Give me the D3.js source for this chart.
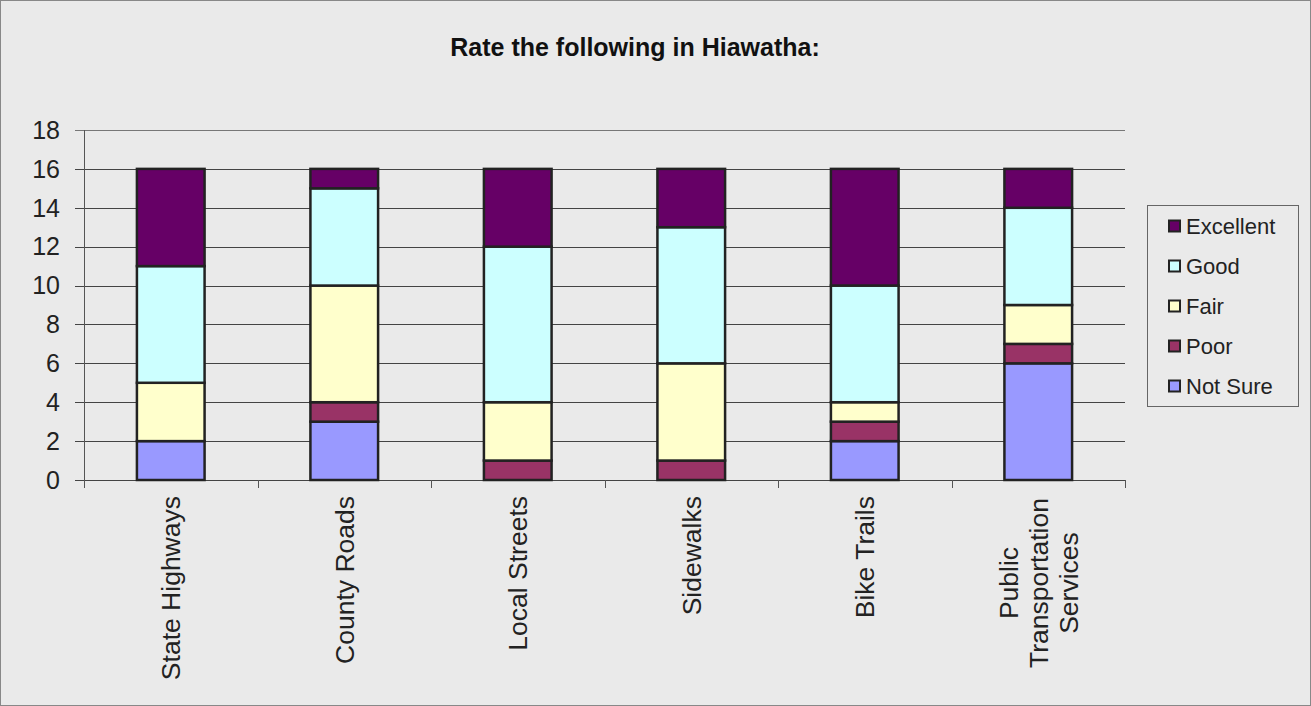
<!DOCTYPE html>
<html><head><meta charset="utf-8">
<script src="https://cdn.jsdelivr.net/npm/d3@7"></script>
<style>body{margin:0;background:#fff}svg{display:block}</style>
</head><body><svg id="c" width="1311" height="706"></svg>
<script>
const categories = ["State Highways","County Roads","Local Streets","Sidewalks","Bike Trails","Public Transportation Services"];
const categoryLines = [["State Highways"],["County Roads"],["Local Streets"],["Sidewalks"],["Bike Trails"],["Public","Transportation","Services"]];
const seriesNames = ["Not Sure","Poor","Fair","Good","Excellent"];
const notSure   = [2,3,0,0,2,6];
const poor      = [0,1,1,1,1,1];
const fair      = [3,6,3,5,1,2];
const good      = [6,5,8,7,6,5];
const excellent = [5,1,4,3,6,2];
const yTicks = [0,2,4,6,8,10,12,14,16,18];
const colors = {"Not Sure":"#9999FF","Poor":"#993366","Fair":"#FFFFCC","Good":"#CCFFFF","Excellent":"#660066"};
const seriesValues = [notSure,poor,fair,good,excellent];

const svg = d3.select("#c");
const font = "'Liberation Sans', Arial, sans-serif";
svg.append("rect").attr("x",0.5).attr("y",0.5).attr("width",1310).attr("height",705)
  .attr("fill","#EAEAEA").attr("stroke","#888").attr("stroke-width",1);

svg.append("text").attr("x",635).attr("y",56).attr("text-anchor","middle")
  .attr("font-family",font).attr("font-size",25).attr("font-weight","bold").attr("fill","#111")
  .text("Rate the following in Hiawatha:");

const L=84, R=1125, T=130, B=480;
const x = d3.scaleBand().domain(categories).range([L,R]).paddingInner(0.61).paddingOuter(0.305);
const y = d3.scaleLinear().domain([0,18]).range([B,T]);

// gridlines
svg.append("g").selectAll("line").data(yTicks).join("line")
  .attr("x1",L-9).attr("x2",R).attr("y1",d=>Math.round(y(d))+0.5).attr("y2",d=>Math.round(y(d))+0.5)
  .attr("stroke",d=>d===18?"#777":"#444").attr("stroke-width",1);
// y axis line
svg.append("line").attr("x1",L+0.5).attr("x2",L+0.5).attr("y1",T).attr("y2",B+8).attr("stroke","#555");
// x ticks at boundaries
const step = (R-L)/categories.length;
svg.append("g").selectAll("line").data(d3.range(categories.length+1)).join("line")
  .attr("x1",i=>Math.round(L+i*step)+0.5).attr("x2",i=>Math.round(L+i*step)+0.5)
  .attr("y1",B).attr("y2",B+8).attr("stroke","#555");

// y labels
svg.append("g").selectAll("text").data(yTicks).join("text")
  .attr("x",60).attr("y",d=>y(d)).attr("dy","0.35em").attr("text-anchor","end")
  .attr("font-family",font).attr("font-size",25).attr("fill","#222").text(d=>d);

// stacks
const rows = categories.map((c,i)=>{const o={cat:c}; seriesNames.forEach((s,j)=>o[s]=seriesValues[j][i]); return o;});
const stack = d3.stack().keys(seriesNames)(rows);
const gBars = svg.append("g");
stack.forEach(layer=>{
  gBars.append("g").selectAll("rect").data(layer.filter(d=>d[1]-d[0]>0)).join("rect")
    .attr("x",d=>x(d.data.cat)).attr("width",x.bandwidth())
    .attr("y",d=>y(d[1])).attr("height",d=>y(d[0])-y(d[1]))
    .attr("fill",colors[layer.key]).attr("stroke","#222").attr("stroke-width",2.5);
});

// x labels
categories.forEach((c,i)=>{
  const lines = categoryLines[i];
  const cx = x(c)+x.bandwidth()/2;
  const g = svg.append("g");
  if(lines.length===1){
    g.append("text").attr("transform",`translate(${cx},496) rotate(-90)`)
      .attr("text-anchor","end").attr("dy","0.35em").attr("font-family",font).attr("font-size",26.5).attr("fill","#222").text(lines[0]);
  } else {
    const n=lines.length, lh=30;
    lines.forEach((t,k)=>{
      g.append("text").attr("transform",`translate(${cx+(k-(n-1)/2)*lh},583) rotate(-90)`)
        .attr("text-anchor","middle").attr("dy","0.35em").attr("font-family",font).attr("font-size",26.5).attr("fill","#222").text(t);
    });
  }
});

// legend
const lg = svg.append("g");
lg.append("rect").attr("x",1147.5).attr("y",205.5).attr("width",151).attr("height",201)
  .attr("fill","#EAEAEA").attr("stroke","#666");
const legendOrder = seriesNames.slice().reverse();
legendOrder.forEach((s,k)=>{
  const yy = 226 + k*40;
  lg.append("rect").attr("x",1169).attr("y",yy-5.5).attr("width",11).attr("height",11)
    .attr("fill",colors[s]).attr("stroke","#222").attr("stroke-width",2);
  lg.append("text").attr("x",1186).attr("y",yy).attr("dy","0.35em")
    .attr("font-family",font).attr("font-size",22).attr("fill","#222").text(s);
});
</script></body></html>
